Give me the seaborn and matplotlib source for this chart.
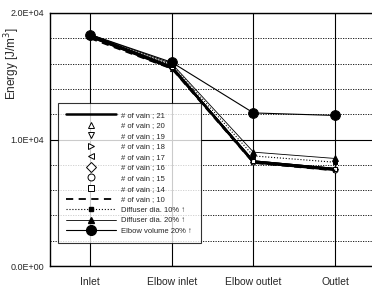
import matplotlib
matplotlib.use("Agg")
import matplotlib.pyplot as plt
from matplotlib.lines import Line2D
from matplotlib.ticker import MultipleLocator, FuncFormatter
import seaborn as sns
import pandas as pd

sns.set_theme(style="white")
plt.rcParams['font.family'] = ['Liberation Sans', 'DejaVu Sans']

categories = ["Inlet", "Elbow inlet", "Elbow outlet", "Outlet"]

vain_21 = [18200, 15700, 8200, 7600]
vain_20 = [18100, 15600, 8300, 7700]
vain_19 = [18200, 15800, 8250, 7650]
vain_18 = [18150, 15700, 8200, 7600]
vain_17 = [18300, 15750, 8300, 7700]
vain_16 = [18100, 15650, 8250, 7650]
vain_15 = [18200, 15700, 8200, 7600]
vain_14 = [18150, 15750, 8300, 7700]
vain_10 = [18000, 15600, 8150, 7550]
diffuser_10 = [18200, 15900, 8700, 8200]
diffuser_20 = [18300, 16000, 9000, 8500]
elbow_volume_20 = [18300, 16100, 12100, 11900]

labels = ["# of vain ; 21", "# of vain ; 20", "# of vain ; 19", "# of vain ; 18",
          "# of vain ; 17", "# of vain ; 16", "# of vain ; 15", "# of vain ; 14",
          "# of vain ; 10", "Diffuser dia. 10% \u2191", "Diffuser dia. 20% \u2191",
          "Elbow volume 20% \u2191"]
series = [vain_21, vain_20, vain_19, vain_18, vain_17, vain_16, vain_15, vain_14,
          vain_10, diffuser_10, diffuser_20, elbow_volume_20]

styles = [
    dict(ls="-", lw=1.8, marker=None, ms=0, mfc="black"),
    dict(ls="-", lw=1.0, marker="^", ms=3, mfc="white"),
    dict(ls="-", lw=1.0, marker="v", ms=3, mfc="white"),
    dict(ls="-", lw=1.0, marker=">", ms=3, mfc="white"),
    dict(ls="-", lw=1.0, marker="<", ms=3, mfc="white"),
    dict(ls="-", lw=1.0, marker="D", ms=3, mfc="white"),
    dict(ls="-", lw=1.0, marker="o", ms=3.5, mfc="white"),
    dict(ls="-", lw=1.0, marker="s", ms=3, mfc="white"),
    dict(ls=(0, (4, 3)), lw=1.3, marker=None, ms=0, mfc="black"),
    dict(ls=":", lw=0.8, marker="s", ms=3.5, mfc="black"),
    dict(ls="-", lw=0.6, marker="^", ms=4, mfc="black"),
    dict(ls="-", lw=0.8, marker="o", ms=7, mfc="black"),
]

fig = plt.figure(figsize=(3.72, 2.91), dpi=100)
ax = fig.add_axes([50/372, 25/291, 1 - 50/372, 253/291])

for vals, lab, st in zip(series, labels, styles):
    df = pd.DataFrame({"x": list(range(len(categories))), "y": vals})
    sns.lineplot(data=df, x="x", y="y", ax=ax, color="black", lw=st["lw"],
                 linestyle=st["ls"], marker=st["marker"], markersize=st["ms"],
                 markerfacecolor=st["mfc"], markeredgecolor="black",
                 markeredgewidth=0.7, legend=False)

ax.set_xlim(-0.49, 3.45)
ax.set_ylim(0, 20000)
ax.set_xticks(range(len(categories)))
ax.set_xticklabels(categories)
ax.yaxis.set_major_locator(MultipleLocator(10000))
ax.yaxis.set_minor_locator(MultipleLocator(2000))
ax.yaxis.set_major_formatter(FuncFormatter(lambda v, p: f"{v:.1E}"))
ax.tick_params(axis="x", length=0, pad=8, labelsize=7.5)
ax.tick_params(axis="y", which="both", length=0, pad=4, labelsize=6.5)
ax.grid(True, axis="x", color="black", lw=0.8)
ax.grid(True, axis="y", which="major", color="black", lw=0.8)
ax.grid(True, axis="y", which="minor", color="black", lw=0.6, ls=(0, (1.5, 1.5)))
ax.set_axisbelow(True)
for s in ["left", "bottom", "top"]:
    ax.spines[s].set_color("black")
    ax.spines[s].set_linewidth(1.0)
ax.spines["right"].set_visible(False)
ax.set_xlabel("")
ax.set_ylabel("Energy [J/m$^3$]", fontsize=8.5)
ax.yaxis.set_label_coords(-28/322, (266 - 64)/253)

handles = []
for i, st in enumerate(styles):
    if 1 <= i <= 7:
        h = Line2D([], [], ls="none", marker=st["marker"], ms=5,
                   mfc="white", mec="black", mew=0.7, color="black")
    else:
        h = Line2D([], [], ls=st["ls"], lw=st["lw"], marker=st["marker"],
                   ms=st["ms"], mfc=st["mfc"], mec="black", color="black")
    handles.append(h)

leg = fig.legend(handles, labels, loc="upper left",
                 bbox_to_anchor=(58/372, 1 - 103/291),
                 prop=dict(size=5.5),
                 frameon=True, fancybox=False, edgecolor="black",
                 handlelength=6.5, handletextpad=0.7, labelspacing=0.42,
                 borderpad=1.1, borderaxespad=0)
leg.get_frame().set_linewidth(0.8)

fig.savefig("out.png", dpi=100)
